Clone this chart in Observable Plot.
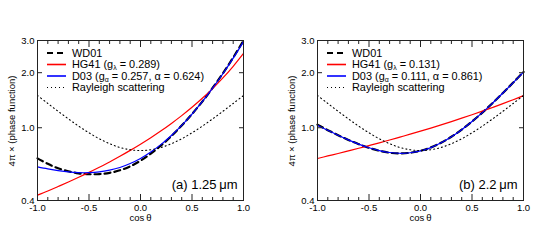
<!DOCTYPE html>
<html>
<head>
<meta charset="utf-8">
<script src="https://cdn.jsdelivr.net/npm/d3@7"></script>
<script src="https://cdn.jsdelivr.net/npm/@observablehq/plot@0.6"></script>
<style>
  body { margin: 0; background: #fff; }
  #row { display: flex; width: 560px; height: 240px; }
  #row svg { display: block; }
</style>
</head>
<body>
<div id="row"></div>
<script>
// ---- data ----
const cosTheta = [-1.0,-0.9,-0.8,-0.7,-0.6,-0.5,-0.4,-0.3,-0.2,-0.1,0.0,0.1,0.2,0.3,0.4,0.5,0.6,0.7,0.8,0.9,1.0];

// panel (a) 1.25 um
const wd01A  = [0.680,0.635,0.600,0.578,0.563,0.557,0.558,0.567,0.585,0.615,0.660,0.722,0.800,0.900,1.028,1.188,1.390,1.650,1.985,2.420,3.000];
const hg41A  = [0.428,0.451,0.477,0.505,0.536,0.570,0.608,0.650,0.698,0.752,0.813,0.882,0.962,1.056,1.165,1.294,1.449,1.638,1.872,2.168,2.550];
const d03A   = [0.611,0.596,0.583,0.573,0.568,0.568,0.573,0.586,0.606,0.637,0.679,0.736,0.811,0.907,1.030,1.188,1.388,1.645,1.974,2.401,2.960];

// panel (b) 2.2 um
const wd01B  = [1.040,0.970,0.910,0.858,0.813,0.776,0.748,0.730,0.724,0.730,0.748,0.780,0.828,0.893,0.977,1.082,1.210,1.365,1.550,1.766,2.020];
const hg41B  = [0.679,0.701,0.723,0.747,0.772,0.799,0.827,0.857,0.889,0.922,0.958,0.996,1.037,1.081,1.128,1.178,1.232,1.291,1.354,1.423,1.498];
const d03B   = [1.033,0.968,0.910,0.858,0.813,0.777,0.750,0.732,0.725,0.730,0.747,0.779,0.827,0.892,0.976,1.081,1.210,1.364,1.548,1.764,2.016];

// Rayleigh (same in both panels)
const rayleigh = [1.500,1.358,1.230,1.118,1.020,0.938,0.870,0.818,0.780,0.758,0.750,0.758,0.780,0.818,0.870,0.938,1.020,1.118,1.230,1.358,1.500];

// ticks / labels
const xMajor = [-1.0,-0.5,0.0,0.5,1.0];
const xMinor = [-0.9,-0.8,-0.7,-0.6,-0.4,-0.3,-0.2,-0.1,0.1,0.2,0.3,0.4,0.6,0.7,0.8,0.9];
const yTicks = [0.4,1.0,2.0,3.0];
const yDomain = [0.4,3.0];
const xLabel = "cos\u2009\u03b8";
const yLabel = "4\u03c0 \u00d7 (phase function)";
const panelLabels = ["(a) 1.25\u2009\u03bcm", "(b) 2.2\u2009\u03bcm"];
const gLambda = ["0.289","0.131"];
const gAlpha  = ["0.257","0.111"];
const alphaVal = ["0.624","0.861"];

const FONT = "'Liberation Sans', Arial, Helvetica, sans-serif";
const noText = () => "";

function makePanel(wd01, hg41, d03, idx) {
  const svg = Plot.plot({
    width: 280, height: 240,
    marginLeft: 37, marginRight: 37, marginTop: 40, marginBottom: 40,
    style: {fontFamily: FONT, fontSize: "9.5px", background: "#fff", color: "#000"},
    x: {domain: [-1, 1]},
    y: {type: "log", domain: yDomain},
    marks: [
      Plot.line(cosTheta, {x: cosTheta, y: wd01, stroke: "#000", strokeWidth: 2.2, strokeDasharray: "6,4", curve: "catmull-rom"}),
      Plot.line(cosTheta, {x: cosTheta, y: hg41, stroke: "#ff0000", strokeWidth: 1.2, curve: "catmull-rom"}),
      Plot.line(cosTheta, {x: cosTheta, y: d03, stroke: "#0000ff", strokeWidth: 1.2, curve: "catmull-rom"}),
      Plot.line(cosTheta, {x: cosTheta, y: rayleigh, stroke: "#000", strokeWidth: 1.1, strokeDasharray: "1,3", curve: "catmull-rom"}),
      Plot.frame({stroke: "#222", strokeWidth: 1}),
      // tick labels
      Plot.axisX(xMajor, {anchor: "bottom", tickSize: 0, tickPadding: 4, tickFormat: d => d.toFixed(1), label: null}),
      Plot.axisY(yTicks, {anchor: "left", tickSize: 0, tickPadding: 3, tickFormat: d => d.toFixed(1), label: null}),
      // inward ticks
      Plot.axisX(xMajor, {anchor: "bottom", tickSize: -6, tickFormat: noText, label: null, stroke: "#222"}),
      Plot.axisX(xMinor, {anchor: "bottom", tickSize: -3, tickFormat: noText, label: null, stroke: "#222"}),
      Plot.axisX(xMajor, {anchor: "top", tickSize: -6, tickFormat: noText, label: null, stroke: "#222"}),
      Plot.axisX(xMinor, {anchor: "top", tickSize: -3, tickFormat: noText, label: null, stroke: "#222"}),
      Plot.axisY(yTicks, {anchor: "left", tickSize: -5, tickFormat: noText, label: null, stroke: "#222"}),
      Plot.axisY(yTicks, {anchor: "right", tickSize: -5, tickFormat: noText, label: null, stroke: "#222"}),
      // axis title (x) and panel label
      Plot.text([xLabel], {text: d => d, frameAnchor: "bottom", dy: 20.5, fontSize: 9.5}),
      Plot.text([panelLabels[idx]], {text: d => d, frameAnchor: "bottom-right", dx: -6, dy: -12, fontSize: 13, textAnchor: "end"})
    ]
  });

  const sel = d3.select(svg);
  // y-axis title
  sel.append("text")
    .attr("transform", "translate(12,121) rotate(-90)")
    .attr("text-anchor", "middle").attr("dy", "0.35em")
    .attr("font-family", FONT).attr("font-size", 9.5).attr("fill", "#000")
    .text(yLabel);

  // legend (inside frame, top-left)
  const rows = [
    {stroke: "#000", width: 2.2, dash: "6,4", parts: [["WD01"]]},
    {stroke: "#ff0000", width: 1.6, dash: null, parts: [["HG41 (g"], ["\u03bb", "sub"], [" = " + gLambda[idx] + ")"]]},
    {stroke: "#0000ff", width: 1.6, dash: null, parts: [["D03 (g"], ["\u03b1", "sub"], [" = " + gAlpha[idx] + ", \u03b1 = " + alphaVal[idx] + ")"]]},
    {stroke: "#000", width: 1.1, dash: "1,3", parts: [["Rayleigh scattering"]]}
  ];
  const g = sel.append("g")
    .attr("font-family", FONT).attr("font-size", 10.9).attr("fill", "#000").attr("text-anchor", "start");
  rows.forEach((r, i) => {
    const y = 53 + i * 11.5;
    const ln = g.append("line").attr("x1", 47).attr("x2", 66).attr("y1", y).attr("y2", y)
      .attr("stroke", r.stroke).attr("stroke-width", r.width);
    if (r.dash) ln.attr("stroke-dasharray", r.dash);
    const t = g.append("text").attr("x", 72).attr("y", y).attr("dy", "0.35em").attr("text-anchor", "start");
    let shifted = false;
    r.parts.forEach(p => {
      const ts = t.append("tspan").text(p[0]);
      if (p[1] === "sub") { ts.attr("dy", 2).attr("font-size", 7); shifted = true; }
      else if (shifted) { ts.attr("dy", -2); shifted = false; }
    });
  });
  return svg;
}

const row = document.getElementById("row");
row.appendChild(makePanel(wd01A, hg41A, d03A, 0));
row.appendChild(makePanel(wd01B, hg41B, d03B, 1));
</script>
</body>
</html>
